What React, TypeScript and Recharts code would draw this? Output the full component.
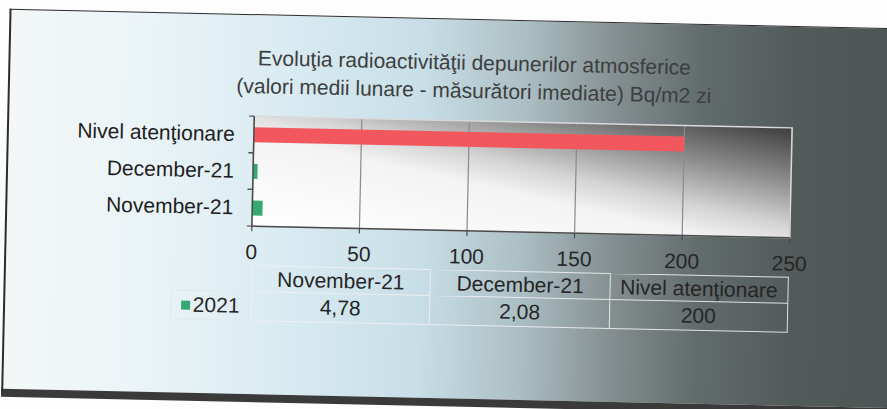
import React from 'react';
import { BarChart, Bar, XAxis, YAxis, CartesianGrid, Cell, ReferenceArea } from 'recharts';

const categories = ['November-21', 'December-21', 'Nivel atenţionare'];
const values = [4.78, 2.08, 200];
const valueLabels = ['4,78', '2,08', '200'];
const seriesName = '2021';
const xTicks = [0, 50, 100, 150, 200, 250];
const barColors = ['#36a872', '#36a872', '#f2575e'];
const titleLines = [
  'Evoluţia radioactivităţii depunerilor atmosferice',
  '(valori medii lunare - măsurători imediate) Bq/m2 zi',
];

const data = categories.map((name, i) => ({ name, v: values[i] }));

const FONT = '"Liberation Sans", Arial, sans-serif';
const CHART_W = 887;
const CHART_H = 272;
const M = { top: 122, right: 96, bottom: 10, left: 10 };
const Y_W = 243;
const X_H = 30;
const PLOT_LEFT = M.left + Y_W;
const PLOT_W = CHART_W - M.right - PLOT_LEFT;
const PLOT_H = CHART_H - M.top - M.bottom - X_H;
const BAND = PLOT_H / categories.length;
const COL_W = PLOT_W / categories.length;

const YTick = (props: any) => {
  const { y, payload } = props;
  return (
    <g>
      <line x1={PLOT_LEFT - 5} x2={PLOT_LEFT} y1={y - BAND / 2} y2={y - BAND / 2} stroke="#555" strokeWidth={1.2} />
      <line x1={PLOT_LEFT - 5} x2={PLOT_LEFT} y1={y + BAND / 2} y2={y + BAND / 2} stroke="#555" strokeWidth={1.2} />
      <text x={PLOT_LEFT - 19} y={y} dy={7} textAnchor="end" fill="#1e1e1e" fontSize={21} fontFamily={FONT}>
        {payload.value}
      </text>
    </g>
  );
};

const lineColor = 'rgba(240,240,240,0.9)';

export default function App() {
  return (
    <div style={{ position: 'fixed', left: 0, top: 0, width: 887, height: 409, overflow: 'hidden', background: '#fdfdfd' }}>
      <svg width={0} height={0} style={{ position: 'absolute' }}>
        <defs>
          <linearGradient id="plotGrad" x1="0" y1="1" x2="1" y2="0">
            <stop offset="0" stopColor="#ffffff" />
            <stop offset="0.42" stopColor="#f3f3f3" />
            <stop offset="0.55" stopColor="#d4d4d4" />
            <stop offset="0.75" stopColor="#8e8e8e" />
            <stop offset="1" stopColor="#3e3e3e" />
          </linearGradient>
        </defs>
      </svg>
      <div
        style={{
          position: 'absolute',
          left: 0,
          top: 0,
          width: 887,
          height: 409,
          transform: 'rotate(1.25deg)',
          transformOrigin: '522px 177px',
        }}
      >
        <div
          style={{
            position: 'absolute',
            left: 6,
            top: 20,
            width: 960,
            height: 379,
            borderLeft: '2px solid #2c2c2c',
            borderTop: '1.5px solid #2c2c2c',
            borderBottom: '8px solid #3a3a3a',
            background:
              'linear-gradient(90deg, #f3f7f8 0%, #ebf4f7 14%, #d8eaf1 30%, #c8dee6 43%, #aabdc2 54%, #858f91 63%, #636c6d 72%, #525a5a 82%, #4a5151 100%)',
          }}
        />
        <div
          style={{
            position: 'absolute',
            left: 222,
            top: 50,
            width: 500,
            textAlign: 'center',
            fontFamily: FONT,
            fontSize: 21,
            lineHeight: '28px',
            color: '#3c3f40',
            whiteSpace: 'nowrap',
          }}
        >
          {titleLines.map((t) => (
            <div key={t}>{t}</div>
          ))}
        </div>
        <div style={{ position: 'absolute', left: 0, top: 0 }}>
          <BarChart width={CHART_W} height={CHART_H} data={data} layout="vertical" margin={M} barSize={15}>
            <CartesianGrid horizontal={false} stroke="#8a8a8a" strokeWidth={1.2} fill="url(#plotGrad)" />
            <ReferenceArea x1={0} x2={250} fill="none" stroke="#d9d9d9" strokeWidth={1.5} ifOverflow="visible" />
            <XAxis
              type="number"
              domain={[0, 250]}
              ticks={xTicks}
              height={X_H}
              tickSize={5}
              tickMargin={13}
              axisLine={{ stroke: '#4a4a4a', strokeWidth: 1.5 }}
              tickLine={{ stroke: '#4a4a4a', strokeWidth: 1.2 }}
              tick={{ fill: '#262626', fontSize: 21, fontFamily: FONT }}
              interval={0}
            />
            <YAxis
              type="category"
              dataKey="name"
              reversed
              width={Y_W}
              tickLine={false}
              axisLine={{ stroke: '#4a4a4a', strokeWidth: 1.5 }}
              tick={<YTick />}
              interval={0}
            />
            <Bar dataKey="v" isAnimationActive={false}>
              {data.map((d, i) => (
                <Cell key={d.name} fill={barColors[i]} />
              ))}
            </Bar>
          </BarChart>
        </div>
        {/* data table */}
        <div style={{ position: 'absolute', left: 0, top: 0, fontFamily: FONT, fontSize: 21, color: '#262626' }}>
          <div
            style={{
              position: 'absolute',
              left: 173,
              top: 297,
              width: PLOT_LEFT - 173,
              height: 30,
              border: `1.5px solid rgba(225,232,235,0.9)`,
              boxSizing: 'border-box',
              display: 'flex',
              alignItems: 'center',
              justifyContent: 'center',
            }}
          >
            <span style={{ display: 'inline-block', width: 9, height: 9, background: barColors[0], marginRight: 3 }} />
            {seriesName}
          </div>
          {categories.map((c, i) => (
            <React.Fragment key={c}>
              <div
                style={{
                  position: 'absolute',
                  left: PLOT_LEFT + i * COL_W,
                  top: 271,
                  width: COL_W,
                  height: 26,
                  borderLeft: `1.5px solid ${lineColor}`,
                  borderTop: `1.5px solid ${lineColor}`,
                  borderRight: i === categories.length - 1 ? `1.5px solid ${lineColor}` : undefined,
                  boxSizing: 'border-box',
                  textAlign: 'center',
                  lineHeight: '26px',
                  whiteSpace: 'nowrap',
                }}
              >
                {c}
              </div>
              <div
                style={{
                  position: 'absolute',
                  left: PLOT_LEFT + i * COL_W,
                  top: 297,
                  width: COL_W,
                  height: 30,
                  borderLeft: `1.5px solid ${lineColor}`,
                  borderTop: `1.5px solid ${lineColor}`,
                  borderBottom: `1.5px solid ${lineColor}`,
                  borderRight: i === categories.length - 1 ? `1.5px solid ${lineColor}` : undefined,
                  boxSizing: 'border-box',
                  textAlign: 'center',
                  lineHeight: '28px',
                }}
              >
                {valueLabels[i]}
              </div>
            </React.Fragment>
          ))}
        </div>
      </div>
    </div>
  );
}
